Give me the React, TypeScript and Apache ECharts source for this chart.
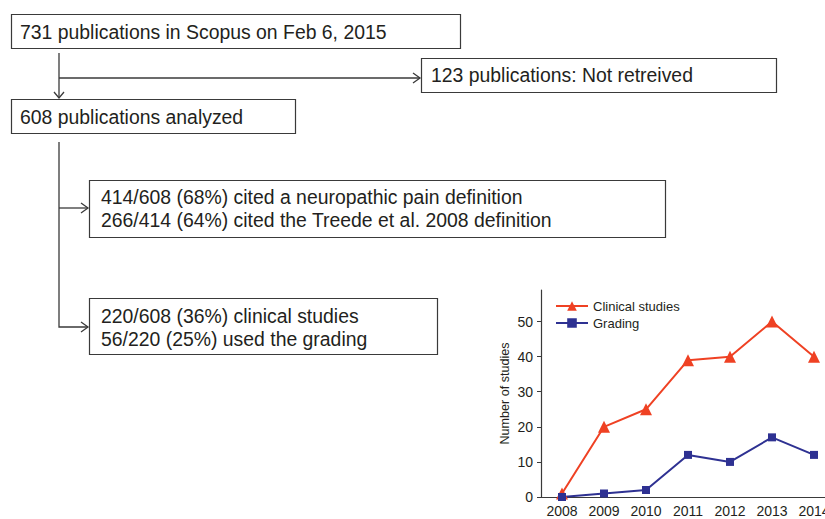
import React, { useEffect, useRef } from "react";
import * as echarts from "echarts";

const years = ["2008", "2009", "2010", "2011", "2012", "2013", "2014"];
const clinicalStudies = [1, 20, 25, 39, 40, 50, 40];
const grading = [0, 1, 2, 12, 10, 17, 12];
const seriesNames = ["Clinical studies", "Grading"];
const flowTexts = [
  "731 publications in Scopus on Feb 6, 2015",
  "123 publications: Not retreived",
  "608 publications analyzed",
  "414/608 (68%) cited a neuropathic pain definition",
  "266/414 (64%) cited the Treede et al. 2008 definition",
  "220/608 (36%) clinical studies",
  "56/220 (25%) used the grading",
];

const FONT = "Liberation Sans, Arial, sans-serif";
const LINE = "#3a3a3a";
const TXT = "#231f20";

function box(x: number, y: number, w: number, h: number) {
  return {
    type: "rect",
    shape: { x: x + 0.5, y: y + 0.5, width: w, height: h },
    style: { fill: "#fff", stroke: LINE, lineWidth: 1.2 },
  };
}
function txt(x: number, y: number, t: string) {
  return {
    type: "text",
    x,
    y,
    style: { text: t, fontSize: 19.4, fontFamily: FONT, fill: TXT, verticalAlign: "middle", align: "left" },
  };
}
function ln(pts: number[][]) {
  return {
    type: "polyline",
    shape: { points: pts },
    style: { stroke: LINE, lineWidth: 1.3, fill: null },
  };
}

export default function App() {
  const ref = useRef<HTMLDivElement>(null);
  useEffect(() => {
    const chart = echarts.init(ref.current!, null, { renderer: "svg" });
    const graphics: any[] = [
      ln([[59, 53], [59, 98]]),
      ln([[54, 92], [59, 98], [64, 92]]),
      ln([[59, 78], [420, 78]]),
      ln([[413, 73], [420, 78], [413, 83]]),
      ln([[59, 142], [59, 327], [88, 327]]),
      ln([[59, 208], [88, 208]]),
      ln([[81, 203], [88, 208], [81, 213]]),
      ln([[81, 322], [88, 327], [81, 332]]),
      box(11, 14, 449, 34),
      box(421, 58, 355, 34),
      box(11, 99, 284, 34),
      box(89, 180, 576, 57),
      box(89, 298, 348, 56),
      txt(20, 32, flowTexts[0]),
      txt(431, 75, flowTexts[1]),
      txt(20, 117, flowTexts[2]),
      txt(101, 197, flowTexts[3]),
      txt(101, 220, flowTexts[4]),
      txt(101, 316, flowTexts[5]),
      txt(101, 339, flowTexts[6]),
    ];
    chart.setOption({
      animation: false,
      backgroundColor: "#fff",
      textStyle: { fontFamily: FONT },
      graphic: { elements: graphics },
      grid: { left: 541, top: 290, width: 294, height: 207, outerBoundsMode: "none", containLabel: false },
      legend: {
        left: 555,
        top: 299,
        padding: 0,
        orient: "vertical",
        itemWidth: 32,
        itemHeight: 12,
        itemGap: 3,
        textStyle: { fontSize: 13, color: TXT, fontFamily: FONT, lineHeight: 14 },
        data: seriesNames,
      },
      xAxis: {
        type: "category",
        data: years,
        boundaryGap: true,
        axisLine: { lineStyle: { color: LINE, width: 1.2 } },
        axisTick: { alignWithLabel: true, length: 4, lineStyle: { color: LINE } },
        axisLabel: { fontSize: 14, color: TXT, margin: 7, fontFamily: FONT, hideOverlap: false },
      },
      yAxis: {
        type: "value",
        min: 0,
        max: 59,
        interval: 10,
        name: "Number of studies",
        nameLocation: "middle",
        nameGap: 30,
        nameTextStyle: { fontSize: 12.6, color: TXT, fontFamily: FONT },
        axisLine: { show: true, lineStyle: { color: LINE, width: 1.2 } },
        axisTick: { show: true, length: 4, lineStyle: { color: LINE } },
        splitLine: { show: false },
        axisLabel: { fontSize: 14, color: TXT, margin: 8, fontFamily: FONT, showMaxLabel: false },
      },
      series: [
        {
          name: seriesNames[0],
          type: "line",
          data: clinicalStudies,
          symbol: "triangle",
          symbolSize: 12,
          color: "#ef4123",
          lineStyle: { width: 2, color: "#ef4123" },
          itemStyle: { color: "#ef4123" },
        },
        {
          name: seriesNames[1],
          type: "line",
          data: grading,
          symbol: "rect",
          symbolSize: 8,
          color: "#2e3192",
          lineStyle: { width: 2, color: "#2e3192" },
          itemStyle: { color: "#2e3192" },
        },
      ],
    });
    return () => chart.dispose();
  }, []);
  return (
    <div
      ref={ref}
      style={{ position: "fixed", left: 0, top: 0, width: 825, height: 519 }}
    />
  );
}
